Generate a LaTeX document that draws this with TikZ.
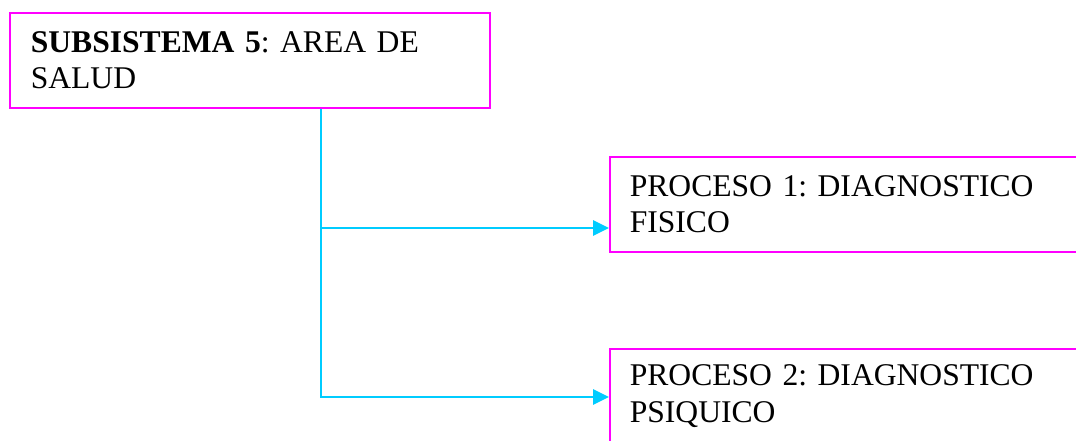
\documentclass[tikz,border=0pt]{standalone}
\usepackage{fontspec}
\setmainfont{Liberation Serif}
\usetikzlibrary{arrows.meta,calc}
\definecolor{boxmag}{RGB}{255,0,255}
\definecolor{conncyan}{RGB}{0,204,255}
\frenchspacing
\tikzset{
  boxnode/.style={draw=boxmag, line width=1.2pt, rectangle, anchor=north west,
    minimum height=71.25pt, inner ysep=0pt, align=left,
    font=\fontsize{23.7pt}{27.5pt}\selectfont\frenchspacing},
  conn/.style={draw=conncyan, line width=1.3pt, -{Triangle[length=12pt,width=11.5pt]}}
}
\begin{document}
\begin{tikzpicture}[x=0.75pt,y=-0.75pt]
\useasboundingbox (0,0) rectangle (1076,440);
\clip (0,0) rectangle (1076,440);
\node[boxnode, minimum width=360pt, inner xsep=15.75pt, text width=328.5pt] (top) at (9,12)
  {\textbf{SUBSISTEMA 5}: AREA DE\\SALUD};
\node[boxnode, minimum width=375pt, inner xsep=15pt, text width=345pt] (p1) at (609,156)
  {PROCESO 1: DIAGNOSTICO\\FISICO};
\node[boxnode, minimum width=375pt, inner xsep=15pt, text width=345pt] (p2) at (609,348)
  {PROCESO 2: DIAGNOSTICO\\PSIQUICO};
\coordinate (t) at ($(top.south west)+(312,0)$);
\coordinate (a1) at ($(p1.north west)+(0,72)$);
\coordinate (a2) at ($(p2.north west)+(0,49)$);
\draw[conn] (t) |- (a1);
\draw[conn] (t) |- (a2);
\end{tikzpicture}
\end{document}
